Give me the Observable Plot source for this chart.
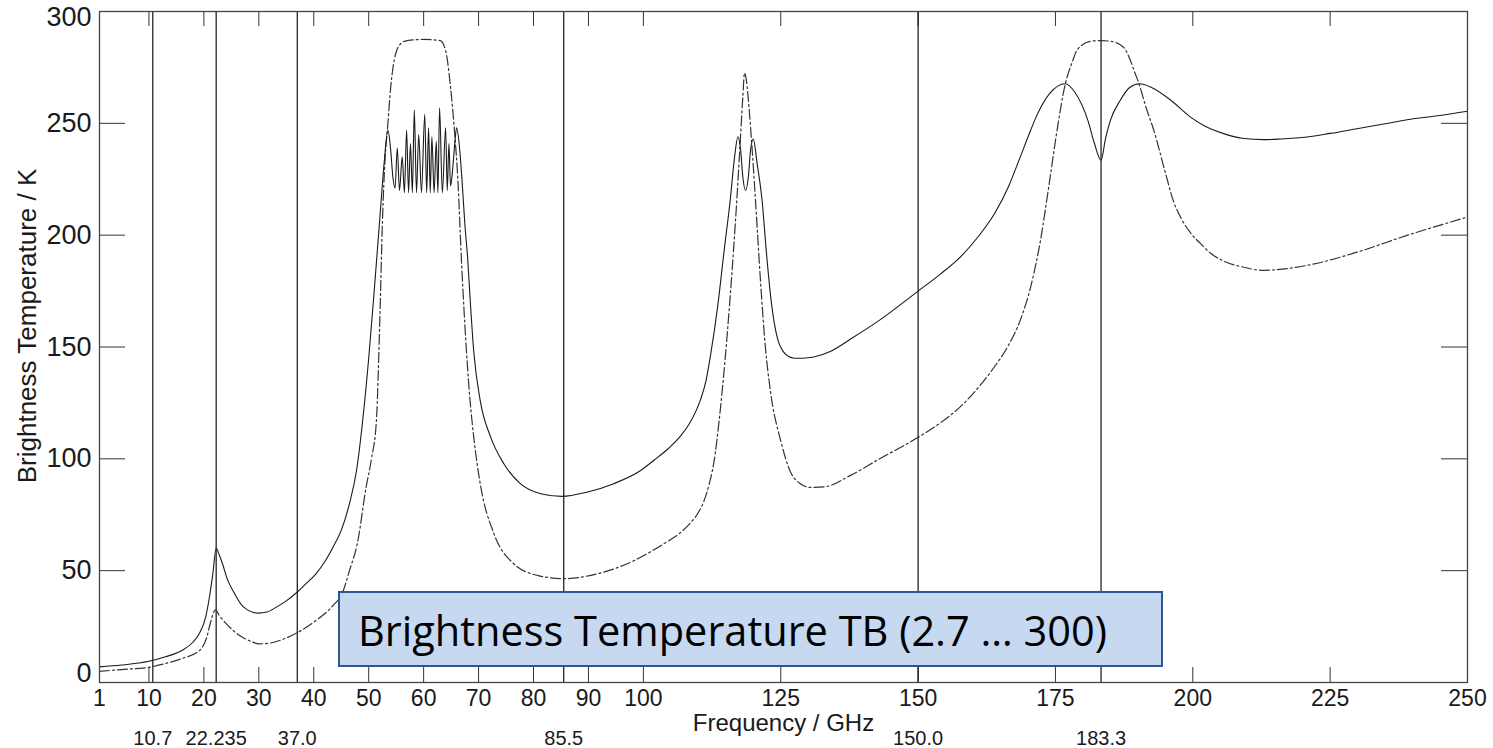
<!DOCTYPE html>
<html>
<head>
<meta charset="utf-8">
<script src="https://cdn.jsdelivr.net/npm/d3@7"></script>
<script src="https://cdn.jsdelivr.net/npm/@observablehq/plot@0.6"></script>
<style>
  html, body { margin: 0; padding: 0; background: #fff; }
  #wrap { position: relative; width: 1493px; height: 748px; overflow: hidden; }
  #note {
    position: absolute; left: 338px; top: 591px; width: 803px; height: 72px;
    background: #c6d9f1; border: 2px solid #2f5597;
    font-family: "Open Sans", sans-serif; font-size: 41.5px; color: #000;
    line-height: 74px; padding-left: 18px; box-sizing: content-box;
    white-space: nowrap; overflow: hidden;
  }
</style>
</head>
<body>
<div id="wrap"><div id="note">Brightness Temperature TB (2.7 … 300)</div></div>
<script>
// ---- data ----
const xTicks = [1, 10, 20, 30, 40, 50, 60, 70, 80, 90, 100, 125, 150, 175, 200, 225, 250];
const yTicks = [0, 50, 100, 150, 200, 250, 300];
const yInnerTicks = [50, 100, 150, 200, 250];
const bandFreqs = [10.7, 22.235, 37.0, 85.5, 150.0, 183.3];
const bandLabels = ["10.7", "22.235", "37.0", "85.5", "150.0", "183.3"];

// solid curve (frequency GHz, TB K)
const solidFreq = [1, 5, 10, 13, 16, 18, 19.2, 20.3, 21, 21.6, 22.24, 22.8, 23.4, 24.3, 25.3, 27.1, 29.8, 31.5, 33.2, 35, 36.8, 38.5, 40.4, 42, 43.5, 45, 46.5, 47.8, 48.9, 50, 51, 52.1, 52.8, 53.5, 54.0, 54.4, 54.8, 55.2, 55.6, 56.1, 56.5, 56.9, 57.25, 57.6, 57.95, 58.3, 58.7, 59.1, 59.6, 60.2, 60.55, 60.9, 61.2, 61.5, 61.9, 62.3, 62.6, 62.9, 63.4, 64.0, 64.3, 64.6, 64.9, 65.3, 65.7, 66.0, 66.5, 67, 67.5, 68, 68.5, 69.1, 70.3, 72.2, 74.6, 77.6, 81.3, 85.2, 89.7, 94.6, 99.5, 102, 104.5, 106.7, 108.3, 109.5, 110.4, 111.4, 112.2, 113.5, 114.7, 115.8, 116.6, 117.2, 117.7, 118.1, 118.6, 119.1, 119.5, 120, 120.7, 121.6, 122.4, 123.1, 123.8, 124.5, 125.3, 126.3, 127.5, 129, 131, 134, 138, 143, 150, 154, 158, 161, 164, 166.5, 168.6, 170.5, 171.7, 174, 176.8, 178.5, 180.9, 182.1, 183.3, 184.1, 185, 186.8, 188.5, 190.3, 192.5, 196, 199.6, 202, 205.6, 209, 212.9, 216, 220.8, 225, 229.9, 235, 239, 245, 250];
const solidTb = [7, 7.8, 9.5, 11.5, 14.3, 18, 22, 29, 38, 48, 60, 57, 53, 46, 41, 34, 31, 31.5, 33.7, 36.5, 40, 44, 48.6, 54, 60.5, 68, 80, 95, 117, 145, 175, 210, 232, 247, 238, 226, 221, 239, 220, 235, 219, 247, 219, 241, 219, 256, 219, 245, 219, 254, 219, 248, 219, 244, 219, 242, 219, 257, 219, 248, 220, 241, 222, 230, 242, 248, 240, 224, 205, 190, 170, 148.5, 126, 109.7, 97.8, 88.9, 84.4, 83.2, 85.1, 88.9, 94.8, 99.5, 104.5, 110, 115.5, 121, 126.5, 135, 146, 167.8, 193.2, 215.6, 235, 244, 238, 226, 220, 226, 238, 243, 232, 215.6, 192, 174, 161, 153, 148.5, 146, 145, 145, 145.5, 148, 154, 162, 175, 182.5, 191, 199.5, 210, 222, 235, 247, 254, 263.5, 267.7, 264, 251.3, 241, 233.5, 243, 251.3, 260.3, 266, 267.7, 266, 260.3, 252.8, 249, 245.4, 243.3, 242.7, 243, 243.9, 245.5, 247.6, 249.8, 251.6, 253.5, 255.4];

// dash-dot curve (frequency GHz, TB K)
const dashFreq = [1, 5, 10, 13, 16, 19.2, 20.5, 21.3, 22.1, 22.8, 24.1, 26.5, 28.5, 30.1, 32, 33.8, 36.8, 40.4, 43.5, 45.2, 46.5, 48, 49.5, 50.5, 51.4, 52.0, 52.5, 53.0, 53.4, 54.0, 54.9, 56, 57, 60, 63, 64.0, 64.9, 65.6, 66.3, 66.8, 67.5, 68.2, 69.2, 70.3, 72.8, 76.4, 80.7, 85.5, 91.6, 97.7, 103.7, 106.5, 108.6, 110, 111, 112, 112.8, 114, 115.2, 116.4, 117, 117.7, 118.1, 118.4, 118.7, 119, 119.6, 120.4, 121.3, 122.2, 123.1, 125, 126.8, 128.5, 130.4, 133, 137.7, 143, 150, 154, 158, 161, 164, 166.5, 168.6, 170.5, 172.3, 173.8, 175.3, 176.8, 178, 179, 181.4, 183.3, 185, 187.4, 188.5, 189.4, 190.2, 191.5, 192.9, 195, 196.5, 198, 199.6, 201.5, 203.2, 206, 208.7, 212.9, 220.8, 229.9, 239, 250];
const dashTb = [5, 5.8, 6.8, 8.5, 10.7, 14.3, 20, 27.7, 32.5, 30, 26.2, 21, 18.5, 17.3, 17.6, 18.8, 22, 27.7, 34.4, 40, 50, 63, 87, 100, 117, 160, 206, 235, 247, 266, 281, 286, 287, 287.5, 287, 282.6, 266, 247, 221.5, 193, 160, 133.6, 108, 88.9, 66.5, 53.1, 47.9, 46.4, 48.6, 53.8, 62, 66.5, 71.5, 76, 81, 89, 98, 122, 154, 193.2, 215.6, 245, 262, 272.5, 270, 263.3, 245, 215.6, 180, 150, 130.6, 108, 94, 89, 87.2, 87.5, 92.6, 100, 109.6, 116, 124, 132, 141.5, 151, 162, 177, 198, 222, 247, 267.7, 277, 283, 286.7, 287, 286.7, 284, 279, 273, 267.7, 257, 246.9, 228, 215, 207, 201, 196, 192, 188, 186, 184.3, 186.5, 192.4, 199.9, 208.1];

const solid = solidFreq.map((f, i) => ({f, tb: solidTb[i]}));
const dash = dashFreq.map((f, i) => ({f, tb: dashTb[i]}));
const bands = bandFreqs.map((f, i) => ({f, label: bandLabels[i]}));

// ---- layout ----
const W = 1493, H = 748;
const mL = 99, mR = 26, mT = 11, mB = 66;
const fw = W - mL - mR, fh = H - mT - mB;
const font = "'Liberation Sans', Arial, sans-serif";
const ink = "#1a1a1a";

const chart = Plot.plot({
  width: W, height: H,
  marginLeft: mL, marginRight: mR, marginTop: mT, marginBottom: mB,
  style: {fontFamily: font, background: "transparent", color: ink},
  x: {domain: [1, 250], type: "linear"},
  y: {domain: [0, 300]},
  marks: [
    // inward ticks
    Plot.tickX(xTicks, {x: d => d, insetTop: fh - 15, stroke: "#333", strokeWidth: 1}),
    Plot.tickX(xTicks, {x: d => d, insetBottom: fh - 15, stroke: "#333", strokeWidth: 1}),
    Plot.tickY(yTicks, {y: d => d, insetRight: fw - 26, stroke: "#333", strokeWidth: 1}),
    Plot.tickY(yTicks, {y: d => d, insetLeft: fw - 26, stroke: "#333", strokeWidth: 1}),
    // channel lines
    Plot.ruleX(bands, {x: "f", stroke: "#111", strokeWidth: 1.2}),
    // curves
    Plot.line(dash, {x: "f", y: "tb", stroke: "#333", strokeWidth: 1.2, strokeDasharray: "10,3,2,3", curve: "monotone-x"}),
    Plot.line(solid, {x: "f", y: "tb", stroke: ink, strokeWidth: 1.1, curve: "monotone-x"}),
    Plot.frame({stroke: "#444", strokeWidth: 1.3}),
    // axes labels
    Plot.axisX({ticks: xTicks, tickSize: 0, tickPadding: 7, fontSize: 23, label: null, tickFormat: d => String(d)}),
    Plot.axisX(bands, {x: "f", text: "label", tickSize: 0, tickPadding: 48, fontSize: 20, label: null}),
    Plot.axisY({ticks: yInnerTicks, tickSize: 0, tickPadding: 8, fontSize: 27, label: null}),
    Plot.axisY({ticks: [300], tickSize: 0, tickPadding: 8, fontSize: 27, label: null, dy: 6}),
    Plot.axisY({ticks: [0], tickSize: 0, tickPadding: 8, fontSize: 27, label: null, dy: -9}),
    Plot.text(["Frequency / GHz"], {frameAnchor: "bottom", dy: 41, lineAnchor: "middle", fontSize: 24, fill: ink}),
    Plot.text(["Brightness Temperature / K"], {frameAnchor: "left", textAnchor: "middle", dx: -72, dy: -21, rotate: -90, lineAnchor: "middle", fontSize: 26, fill: ink})
  ]
});
document.getElementById("wrap").prepend(chart);
chart.style.position = "absolute";
chart.style.left = "0px";
chart.style.top = "0px";
</script>
</body>
</html>
